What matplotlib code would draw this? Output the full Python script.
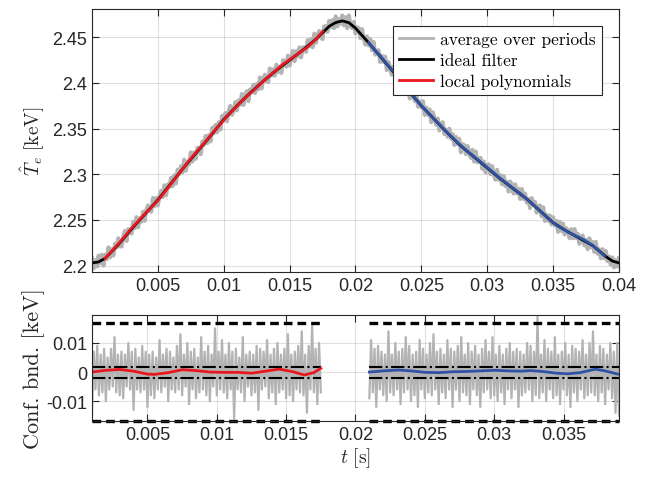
import numpy as np
import matplotlib
matplotlib.use("Agg")
import matplotlib.pyplot as plt
from matplotlib.ticker import FuncFormatter

# average over periods [keV], sampled every 0.125 ms from 0 to 40 ms
avg_T = [
    2.208, 2.197, 2.206, 2.199, 2.211, 2.203, 2.212, 2.200, 2.212, 2.207,
    2.220, 2.209, 2.218, 2.211, 2.224, 2.220, 2.230, 2.221, 2.221, 2.232,
    2.238, 2.227, 2.240, 2.239, 2.235, 2.248, 2.241, 2.253, 2.242, 2.252,
    2.248, 2.259, 2.249, 2.261, 2.266, 2.260, 2.259, 2.274, 2.265, 2.274,
    2.266, 2.276, 2.282, 2.275, 2.288, 2.277, 2.289, 2.286, 2.296, 2.287,
    2.299, 2.290, 2.305, 2.300, 2.309, 2.302, 2.316, 2.304, 2.314, 2.311,
    2.324, 2.314, 2.324, 2.317, 2.329, 2.329, 2.322, 2.336, 2.332, 2.342,
    2.334, 2.343, 2.336, 2.351, 2.345, 2.354, 2.346, 2.357, 2.349, 2.364,
    2.359, 2.367, 2.358, 2.369, 2.375, 2.365, 2.369, 2.379, 2.370, 2.381,
    2.376, 2.388, 2.376, 2.386, 2.391, 2.380, 2.393, 2.390, 2.398, 2.389,
    2.399, 2.393, 2.406, 2.394, 2.404, 2.409, 2.402, 2.401, 2.416, 2.408,
    2.415, 2.408, 2.420, 2.412, 2.418, 2.411, 2.425, 2.424, 2.418, 2.430,
    2.419, 2.428, 2.435, 2.424, 2.435, 2.429, 2.439, 2.428, 2.439, 2.439,
    2.434, 2.447, 2.440, 2.448, 2.439, 2.454, 2.444, 2.452, 2.457, 2.450,
    2.448, 2.462, 2.462, 2.456, 2.468, 2.461, 2.469, 2.460, 2.473, 2.462,
    2.470, 2.465, 2.474, 2.463, 2.472, 2.460, 2.474, 2.463, 2.460, 2.467,
    2.454, 2.461, 2.460, 2.449, 2.459, 2.449, 2.442, 2.451, 2.441, 2.448,
    2.436, 2.445, 2.431, 2.435, 2.436, 2.423, 2.430, 2.423, 2.429, 2.414,
    2.423, 2.417, 2.409, 2.418, 2.407, 2.413, 2.400, 2.410, 2.397, 2.401,
    2.403, 2.389, 2.395, 2.383, 2.392, 2.388, 2.380, 2.387, 2.374, 2.380,
    2.373, 2.380, 2.365, 2.373, 2.365, 2.371, 2.357, 2.368, 2.361, 2.354,
    2.361, 2.348, 2.356, 2.357, 2.344, 2.349, 2.341, 2.350, 2.339, 2.344,
    2.332, 2.341, 2.333, 2.339, 2.324, 2.333, 2.332, 2.322, 2.331, 2.323,
    2.318, 2.327, 2.314, 2.325, 2.313, 2.317, 2.318, 2.306, 2.314, 2.302,
    2.310, 2.311, 2.300, 2.309, 2.299, 2.294, 2.305, 2.294, 2.299, 2.289,
    2.298, 2.287, 2.292, 2.281, 2.292, 2.288, 2.279, 2.289, 2.279, 2.284,
    2.273, 2.284, 2.273, 2.279, 2.269, 2.273, 2.263, 2.274, 2.266, 2.270,
    2.258, 2.265, 2.266, 2.254, 2.264, 2.249, 2.256, 2.249, 2.255, 2.245,
    2.253, 2.244, 2.249, 2.237, 2.248, 2.238, 2.246, 2.234, 2.241, 2.238,
    2.230, 2.240, 2.230, 2.240, 2.230, 2.235, 2.224, 2.232, 2.233, 2.222,
    2.228, 2.218, 2.230, 2.220, 2.226, 2.215, 2.226, 2.213, 2.218, 2.208,
    2.218, 2.208, 2.216, 2.205, 2.210, 2.201, 2.209, 2.198, 2.206, 2.199,
    2.208,
]
t_avg = np.linspace(0.0, 0.04, len(avg_T))

# ideal filter [keV], every 0.5 ms
ideal_T = [
    2.2030, 2.2040, 2.2080, 2.2155, 2.2230, 2.2315, 2.2400, 2.2480, 2.2560, 2.2640,
    2.2720, 2.2810, 2.2900, 2.2990, 2.3080, 2.3165, 2.3250, 2.3335, 2.3420, 2.3510,
    2.3600, 2.3675, 2.3750, 2.3820, 2.3890, 2.3955, 2.4020, 2.4080, 2.4140, 2.4195,
    2.4250, 2.4305, 2.4360, 2.4420, 2.4480, 2.4550, 2.4620, 2.4662, 2.4680, 2.4660,
    2.4600, 2.4520, 2.4440, 2.4355, 2.4270, 2.4185, 2.4100, 2.4010, 2.3920, 2.3835,
    2.3750, 2.3675, 2.3600, 2.3525, 2.3450, 2.3380, 2.3310, 2.3250, 2.3190, 2.3130,
    2.3070, 2.3010, 2.2950, 2.2895, 2.2840, 2.2785, 2.2730, 2.2665, 2.2600, 2.2535,
    2.2470, 2.2425, 2.2380, 2.2340, 2.2300, 2.2260, 2.2220, 2.2160, 2.2100, 2.2050,
    2.2030,
]
t_ideal = np.linspace(0.0, 0.04, len(ideal_T))

# local polynomials: rising part (red) and falling part (blue)
t_red = [0.0010, 0.0020, 0.0030, 0.0040, 0.0050, 0.0055, 0.0065, 0.0075, 0.0085, 0.0095,
         0.0105, 0.0115, 0.0125, 0.0135, 0.0145, 0.0155, 0.0163, 0.0170, 0.0175]
red_T = [2.2080, 2.2236, 2.2409, 2.2563, 2.2713, 2.2802, 2.2988, 2.3173, 2.3340, 2.3510,
         2.3674, 2.3819, 2.3951, 2.4083, 2.4205, 2.4306, 2.4386, 2.4478, 2.4563]
red_dev = [0.0000, 0.0006, 0.0009, 0.0003, -0.0007, -0.0008, -0.0002, 0.0008, 0.0005, 0.0000,
           -0.0001, -0.0001, -0.0004, 0.0003, 0.0010, 0.0001, -0.0010, -0.0002, 0.0013]

t_blue = [0.0210, 0.0220, 0.0231, 0.0240, 0.0250, 0.0260, 0.0270, 0.0280, 0.0290, 0.0300,
          0.0310, 0.0320, 0.0326, 0.0335, 0.0345, 0.0353, 0.0362, 0.0373, 0.0380, 0.0389]
blue_T = [2.4440, 2.4274, 2.4089, 2.3924, 2.3749, 2.3598, 2.3451, 2.3312, 2.3194, 2.3076,
          2.2954, 2.2843, 2.2779, 2.2667, 2.2531, 2.2437, 2.2362, 2.2286, 2.2224, 2.2105]
blue_dev = [0.0000, 0.0004, 0.0007, 0.0004, -0.0001, -0.0002, 0.0001, 0.0002, 0.0004, 0.0006,
            0.0004, 0.0003, 0.0005, 0.0002, -0.0004, -0.0006, -0.0002, 0.0010, 0.0004, -0.0007]

# residuals of the average (1e-3 keV) inside the two fit windows
res1 = [-15, 7, -6, 9, -8, 6, -7, 8, -10, 5, -6, 8, -5, 12, -7, 6, -8, 7, -9, 6,
        -5, 10, -6, 7, -13, 8, -6, 5, -7, 9, -6, 7, -12, 6, -8, 7, -9, 5, -6, 11,
        -7, 6, -5, 8, -10, 7, -6, 5, -7, 9, -6, 13, -8, 6, -5, 10, -11, 7, -6, 8,
        -9, 5, -7, 12, -6, 7, -8, 9, -10, 6, -5, 15, -8, 7, -6, 11, -7, 6, -9, 10,
        -6, 7, -16, 8, -6, 5, -7, 12, -10, 6, -5, 7, -8, 6, -7, 9, -13, 8, -6, 7,
        -5, 11, -9, 6, -7, 8, -11, 10, -7, 6, -6, 8, -9, 13, -8, 6, -10, 7, -6, 9,
        -7, 14, -8, 6, -14, 9, -6, 16, -7, 8, -11, 10, -7]
res2 = [-9, 11, -7, 8, -12, 9, -6, 7, -8, 6, -10, 14, -7, 6, -8, 10, -6, 7, -11, 8,
        -7, 12, -6, 9, -10, 6, -8, 7, -12, 11, -6, 8, -9, 6, -7, 10, -8, 13, -6, 7,
        -11, 8, -7, 6, -9, 11, -6, 8, -12, 7, -6, 9, -10, 12, -7, 6, -8, 10, -11, 7,
        -6, 9, -8, 6, -12, 8, -7, 11, -6, 7, -9, 12, -8, 6, -10, 9, -7, 6, -11, 8,
        -6, 10, -9, 7, -6, 8, -12, 7, -8, 6, -7, 10, -6, 9, -10, 7, -8, 19, -9, 6,
        -7, 11, -10, 8, -6, 7, -9, 12, -8, 6, -11, 7, -6, 10, -8, 6, -12, 9, -7, 8,
        -10, 7, -6, 11, -9, 6, -8, 10, -7, 14, -8, 6, -10, 9, -7, 8, -11, 6, -6, 10,
        -9, 7, -14, 10, -15]
windows = [(0.001, 0.0175), (0.021, 0.039)]
t_res1 = np.linspace(windows[0][0], windows[0][1], len(res1))
t_res2 = np.linspace(windows[1][0], windows[1][1], len(res2))

# confidence bounds [keV]
bnd_outer = 0.0167
bnd_inner = 0.0019

GRAY = '#b3b3b3'
RED = '#e8161e'
BLUE = '#2f52a4'
AX = '#262626'

plt.rcParams['font.family'] = ['Liberation Sans', 'DejaVu Sans']
plt.rcParams['mathtext.fontset'] = 'cm'
plt.rcParams['axes.unicode_minus'] = False

fig = plt.figure(figsize=(6.5, 4.81), dpi=100)
ax1 = fig.add_axes([0.1415, 0.4324, 0.8108, 0.5468])
ax2 = fig.add_axes([0.1415, 0.1227, 0.8108, 0.2210])

fmt = FuncFormatter(lambda v, p: '%g' % v)

for ax in (ax1, ax2):
    ax.tick_params(direction='in', top=True, right=True, length=5, width=0.8,
                   labelsize=13, colors=AX, labelcolor=AX)
    ax.grid(True, color='k', alpha=0.12, lw=0.8)
    ax.set_axisbelow(True)
    for s in ax.spines.values():
        s.set_color(AX)
        s.set_linewidth(0.8)
    ax.xaxis.set_major_formatter(fmt)
    ax.yaxis.set_major_formatter(fmt)

# top panel
ax1.plot(t_avg, avg_T, color=GRAY, lw=2.9, label='average over periods')
ax1.plot(t_ideal, ideal_T, color='k', lw=2.0, label='ideal filter')
ax1.plot(t_red, red_T, color=RED, lw=2.0, label='local polynomials')
ax1.plot(t_blue, blue_T, color=BLUE, lw=2.0)
ax1.set_xlim(0, 0.04)
ax1.set_ylim(2.193, 2.481)
ax1.set_xticks(np.arange(1, 9) * 0.005)
ax1.set_yticks([2.2, 2.25, 2.3, 2.35, 2.4, 2.45])
ax1.set_ylabel(r'$\hat{T}_e\ \mathrm{[keV]}$', fontsize=14, color=AX)
leg = ax1.legend(loc='upper right', bbox_to_anchor=(0.968, 0.937), borderaxespad=0,
                 prop={'family': 'cmr10', 'size': 12.5}, fancybox=False, framealpha=1,
                 edgecolor=AX, handlelength=2.0, handletextpad=0.4, labelspacing=0.32,
                 borderpad=0.35)
leg.get_frame().set_linewidth(0.8)
for h in leg.get_lines():
    h.set_linewidth(2.0)

# bottom panel
ax2.plot(t_res1, np.array(res1) * 1e-3, color=GRAY, lw=1.6)
ax2.plot(t_res2, np.array(res2) * 1e-3, color=GRAY, lw=1.6)
for a, b in windows:
    for sgn in (1, -1):
        ax2.plot([a, b], [sgn * bnd_outer] * 2, color='k', lw=2.4, ls=(0, (2.6, 1.5)),
                 clip_on=False)
        ax2.plot([a, b], [sgn * bnd_inner] * 2, color='k', lw=1.5, ls='-.')
ax2.plot(t_red, red_dev, color=RED, lw=2.0)
ax2.plot(t_blue, blue_dev, color=BLUE, lw=2.0)
ax2.set_xlim(0.001, 0.039)
ax2.set_ylim(-0.0168, 0.0197)
ax2.set_xticks(np.arange(1, 8) * 0.005)
ax2.set_yticks([-0.01, 0, 0.01])
ax2.set_ylabel('Conf. bnd. [keV]', family='cmr10', fontsize=16, color=AX, labelpad=1)
ax2.set_xlabel(r'$t\ \mathrm{[s]}$', fontsize=14, color=AX, labelpad=2)

fig.savefig('out.png', dpi=100)
